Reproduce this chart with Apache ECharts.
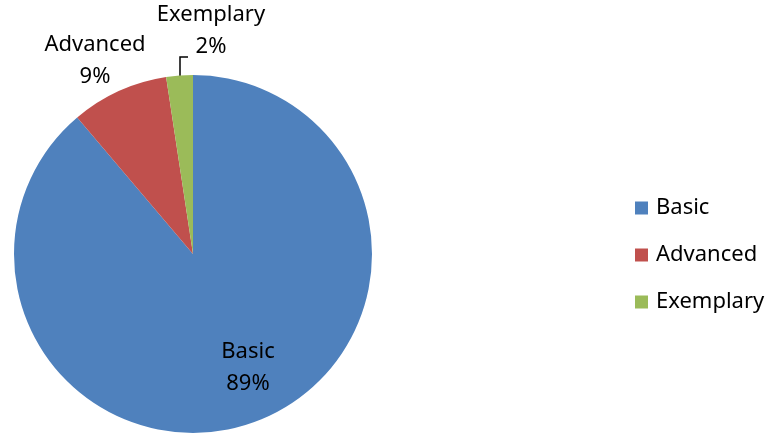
<!DOCTYPE html>
<html>
<head>
<meta charset="utf-8">
<script src="https://cdn.jsdelivr.net/npm/echarts@6/dist/echarts.min.js"></script>
<style>
  html, body { margin: 0; padding: 0; background: #fff; }
  #chart { width: 770px; height: 434px; }
</style>
</head>
<body>
<div id="chart"></div>
<script>
// levels and share of students (%)
const categories = ['Basic', 'Advanced', 'Exemplary'];
const values = [88.8, 8.8, 2.4];
const colors = ['#4F81BD', '#C0504D', '#9BBB59'];

// where each label text sits (Excel-like placement)
const labelSpots = [[248, 368], [95, 61], [211, 31]];

var myChart = echarts.init(document.getElementById('chart'));

var option = {
    animation: false,
    color: colors,
    textStyle: { fontFamily: 'Noto Sans' },
    legend: {
        orient: 'vertical',
        left: 630,
        top: 190,
        icon: 'rect',
        itemWidth: 13,
        itemHeight: 13,
        itemGap: 21,
        textStyle: { fontSize: 22, color: '#000', lineHeight: 26, fontFamily: 'Noto Sans', padding: [0, 0, 0, 3] },
        data: categories
    },
    series: [{
        type: 'pie',
        center: [193, 254],
        radius: [0, 179],
        startAngle: 90,
        clockwise: true,
        avoidLabelOverlap: false,
        data: categories.map((name, i) => ({
            name: name,
            value: values[i],
            labelLine: { show: i === 2 }
        })),
        label: {
            show: true,
            position: 'outside',
            formatter: p => p.name + '\n' + Math.round(p.percent) + '%',
            fontSize: 22,
            lineHeight: 32,
            color: '#000',
            align: 'center',
            fontFamily: 'Noto Sans'
        },
        labelLine: {
            show: true,
            lineStyle: { color: '#000', width: 1.5 }
        },
        labelLayout: function (params) {
            const spot = labelSpots[params.dataIndex];
            const out = {
                x: spot[0],
                y: spot[1],
                align: 'center',
                verticalAlign: 'middle'
            };
            if (params.dataIndex === 2) {
                out.labelLinePoints = [[180, 77], [180, 57], [188, 57]];
            }
            return out;
        },
        itemStyle: { borderWidth: 0 }
    }]
};

myChart.setOption(option);
</script>
</body>
</html>
